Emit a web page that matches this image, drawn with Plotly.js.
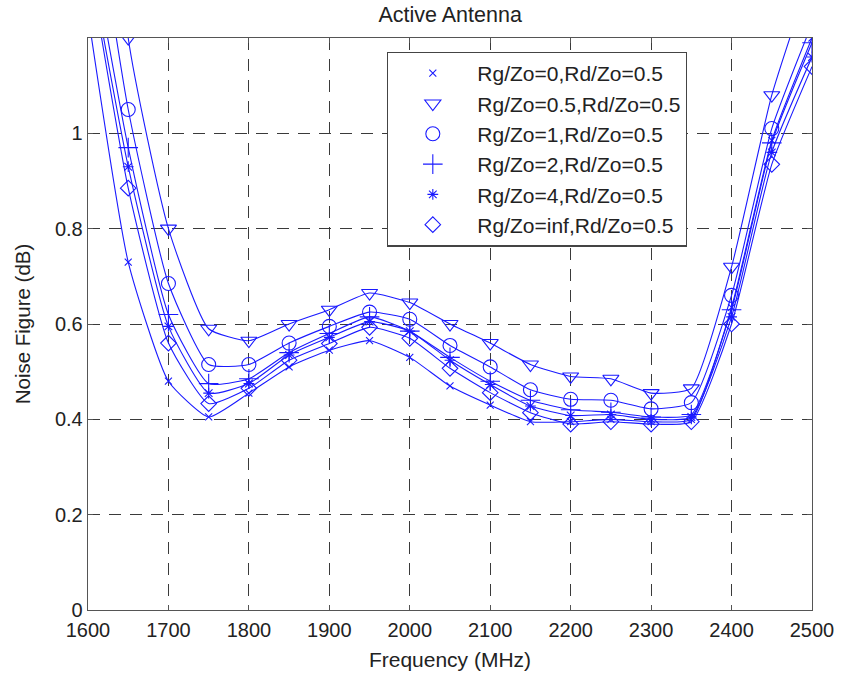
<!DOCTYPE html>
<html>
<head>
<meta charset="utf-8">
<script src="https://cdn.plot.ly/plotly-3.0.1.min.js"></script>
<style>html,body{margin:0;padding:0;background:#fff;}#chart{width:843px;height:676px;}</style>
</head>
<body>
<div id="chart"></div>
<script>
// Frequency (MHz)
const freq = [1600,1650,1700,1750,1800,1850,1900,1950,2000,2050,2100,2150,2200,2250,2300,2350,2400,2450,2500];

// Noise Figure (dB) per series
const nf_rg0   = [1.25,0.73,0.48,0.405,0.455,0.51,0.545,0.565,0.53,0.47,0.43,0.395,0.395,0.40,0.395,0.40,0.635,0.985,1.20];
const nf_rg05  = [2.40,1.20,0.80,0.59,0.565,0.60,0.63,0.665,0.645,0.60,0.56,0.515,0.49,0.485,0.455,0.465,0.72,1.08,1.34];
const nf_rg1   = [1.59,1.05,0.685,0.515,0.515,0.56,0.595,0.625,0.61,0.555,0.51,0.462,0.442,0.44,0.422,0.435,0.66,1.01,1.23];
const nf_rg2   = [1.43,0.97,0.62,0.475,0.485,0.54,0.58,0.615,0.585,0.53,0.48,0.44,0.42,0.415,0.405,0.41,0.63,0.98,1.19];
const nf_rg4   = [1.38,0.93,0.595,0.455,0.475,0.535,0.572,0.605,0.585,0.524,0.473,0.428,0.408,0.41,0.40,0.405,0.615,0.96,1.16];
const nf_rginf = [1.37,0.885,0.56,0.433,0.465,0.524,0.559,0.593,0.57,0.507,0.456,0.414,0.39,0.395,0.39,0.395,0.60,0.935,1.14];

const names = ["Rg/Zo=0,Rd/Zo=0.5","Rg/Zo=0.5,Rd/Zo=0.5","Rg/Zo=1,Rd/Zo=0.5","Rg/Zo=2,Rd/Zo=0.5","Rg/Zo=4,Rd/Zo=0.5","Rg/Zo=inf,Rd/Zo=0.5"];
const series = [nf_rg0, nf_rg05, nf_rg1, nf_rg2, nf_rg4, nf_rginf];
const symbols = ["x-thin-open","triangle-down-open","circle-open","cross-thin-open","asterisk-open","diamond-open"];
const sizes = [7,14,14,14,9,12];
const blue = "#1a1aff";
const FONT = "Liberation Sans, Arial, sans-serif";
const TXT = "#222";

const traces = [];
series.forEach((ys, i) => {
  traces.push({
    x: freq, y: ys, mode: "lines", type: "scatter",
    line: {color: blue, width: 1.1, shape: "spline", smoothing: 0.5},
    showlegend: false, hoverinfo: "skip"
  });
});
series.forEach((ys, i) => {
  traces.push({
    x: freq, y: ys, mode: "markers", type: "scatter", name: names[i],
    legendgroup: "g" + i,
    marker: {symbol: symbols[i], size: sizes[i], color: blue, line: {color: blue, width: 1.1}}
  });
});

const gridStyle = {
  showgrid: true, gridcolor: "#3a3a3a", gridwidth: 1, griddash: "12px,9px",
  showline: true, linecolor: "#555", linewidth: 1.3, mirror: "ticks",
  ticks: "inside", ticklen: 5, tickcolor: "#555", zeroline: false,
  tickfont: {family: FONT, size: 20, color: TXT}
};

const layout = {
  width: 843, height: 676,
  margin: {l: 88, r: 31, t: 38, b: 66},
  paper_bgcolor: "#fff", plot_bgcolor: "#fff",
  font: {family: FONT, color: TXT},
  title: {text: "Active Antenna", font: {size: 21.5, color: TXT}, x: 0.534, xanchor: "center", y: 0.978, yanchor: "middle"},
  xaxis: Object.assign({}, gridStyle, {
    range: [1600, 2500], dtick: 100, tick0: 1600, automargin: false, ticklabelstandoff: 2,
    title: {text: "Frequency (MHz)", font: {size: 21, color: TXT}, standoff: 12}
  }),
  yaxis: Object.assign({}, gridStyle, {
    range: [0, 1.2], tickvals: [0, 0.2, 0.4, 0.6, 0.8, 1], ticktext: ["0","0.2","0.4","0.6","0.8","1"],
    automargin: false,
    title: {text: "Noise Figure (dB)", font: {size: 20.5, color: TXT}, standoff: 18}
  }),
  legend: {
    x: 0.413, y: 0.976, xanchor: "left", yanchor: "top",
    bgcolor: "#fff", bordercolor: "#444", borderwidth: 1.3,
    font: {size: 21, color: TXT}, traceorder: "grouped", tracegroupgap: 0,
    itemwidth: 79
  },
  showlegend: true
};

Plotly.newPlot("chart", traces, layout, {displayModeBar: false, staticPlot: true});
</script>
</body>
</html>
